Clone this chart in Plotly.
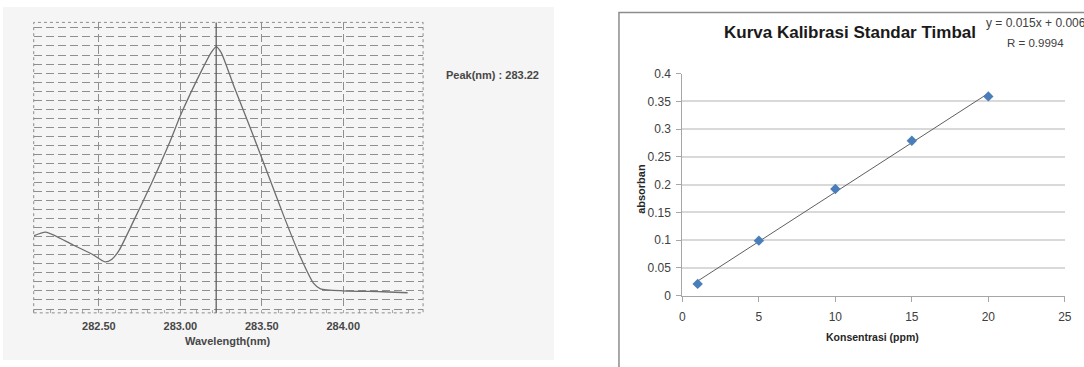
import numpy as np
import plotly.graph_objects as go

# ---------------- Data: spectrum (left panel) ----------------
wavelength_nm = [282.10, 282.174, 282.338, 282.459, 282.538, 282.58, 282.624, 282.72,
                 282.824, 282.928, 283.007, 283.128, 283.19, 283.22, 283.25, 283.33,
                 283.433, 283.536, 283.634, 283.737, 283.817, 283.86, 284.0, 284.243, 284.395]
signal = [9.06, 9.48, 8.1, 7.04, 6.2, 6.5, 7.47, 10.97,
          14.9, 19.1, 22.6, 27.2, 29.3, 29.9, 29.3, 25.5,
          20.8, 15.95, 11.3, 6.73, 3.86, 3.23, 3.01, 2.91, 2.8]
peak_nm = 283.22
wl_ticks = [282.5, 283.0, 283.5, 284.0]
wl_ticktext = ["282.50", "283.00", "283.50", "284.00"]

# ---------------- Data: calibration (right panel) ----------------
konsentrasi = [1, 5, 10, 15, 20]
absorban = [0.021, 0.099, 0.192, 0.279, 0.359]
equation_text = "y = 0.015x + 0.006"
r_text = "R = 0.9994"

W, H = 1084, 367
def px(x):
    return x / W
def py(y):
    return 1 - y / H

fig = go.Figure()

# spectrum curve
fig.add_trace(go.Scatter(x=wavelength_nm, y=signal, mode="lines",
                         line=dict(color="#6e6e6e", width=1.3, shape="spline", smoothing=0.6),
                         xaxis="x", yaxis="y", showlegend=False, hoverinfo="skip"))

# calibration trendline (least squares on the data)
slope, intercept = np.polyfit(konsentrasi, absorban, 1)
xfit = [min(konsentrasi), max(konsentrasi)]
yfit = [slope * v + intercept for v in xfit]
fig.add_trace(go.Scatter(x=xfit, y=yfit, mode="lines",
                         line=dict(color="#5f5f5f", width=1),
                         xaxis="x2", yaxis="y2", showlegend=False, hoverinfo="skip"))
fig.add_trace(go.Scatter(x=konsentrasi, y=absorban, mode="markers",
                         marker=dict(symbol="diamond", size=8, color="#4a7ebb"),
                         xaxis="x2", yaxis="y2", showlegend=False))

sans = "Liberation Sans, Arial, sans-serif"

fig.update_layout(
    width=W, height=H,
    margin=dict(l=0, r=0, t=0, b=0),
    paper_bgcolor="white", plot_bgcolor="rgba(0,0,0,0)",
    font=dict(family=sans, color="#444"),
    xaxis=dict(domain=[px(31), px(424)], range=[282.10, 284.49],
               tickvals=wl_ticks, ticktext=wl_ticktext,
               showgrid=True, gridcolor="#8f8f8f", griddash="8px,4px", gridwidth=1,
               zeroline=False, showline=False,
               ticks="", ticklabelstandoff=5,
               tickfont=dict(size=11, color="#474747", family=sans, weight="bold"),
               minor=dict(dtick=0.1, tick0=282.0, ticks="inside", ticklen=3, tickcolor="#aaaaaa", showgrid=False),
               anchor="y"),
    yaxis=dict(domain=[py(318), py(16)], range=[0.58, 32.6],
               dtick=1, tick0=0, showgrid=True, gridcolor="#8f8f8f", griddash="8px,4px", gridwidth=1,
               showticklabels=False, zeroline=False, showline=False, ticks="", anchor="x"),
    xaxis2=dict(domain=[px(685.7), px(1071.7)], range=[0, 25], dtick=5,
                showgrid=False, zeroline=False, showline=True, linecolor="#a6a6a6", linewidth=1,
                ticks="outside", ticklen=5, tickcolor="#a6a6a6", ticklabelstandoff=5,
                tickfont=dict(size=12, color="#404040", family=sans), anchor="y2"),
    yaxis2=dict(domain=[py(300), py(69.3)], range=[0, 0.4], dtick=0.05,
                showgrid=True, gridcolor="#d9d9d9", gridwidth=1.5, zeroline=False,
                showline=True, linecolor="#a6a6a6", linewidth=1,
                ticks="outside", ticklen=5, tickcolor="#a6a6a6", ticklabelstandoff=3,
                tickfont=dict(size=12, color="#404040", family=sans), anchor="x2"),
)

shapes = [
    # scanned paper background of the left panel
    dict(type="rect", xref="paper", yref="paper", x0=0, x1=px(556), y0=0, y1=1,
         fillcolor="#f5f5f5", line=dict(width=0), layer="below"),
    # left plot frame
    dict(type="rect", xref="paper", yref="paper", x0=px(31), x1=px(424), y0=py(318), y1=py(16),
         line=dict(color="#8c8c8c", width=1, dash="dot"), layer="above"),
    # peak marker line
    dict(type="line", xref="x", yref="paper", x0=peak_nm, x1=peak_nm, y0=py(318), y1=py(16),
         line=dict(color="#555555", width=1.2), layer="above"),
    # right chart frame
    dict(type="rect", xref="paper", yref="paper", x0=px(621.7), x1=1.02, y0=-0.05, y1=py(5.7),
         line=dict(color="#8c8c8c", width=1.5), layer="above"),
]
fig.update_layout(shapes=shapes)

annotations = [
    dict(text="<b>Wavelength(nm)</b>", x=px(227), y=py(347), xref="paper", yref="paper",
         showarrow=False, font=dict(size=11, color="#474747", family=sans),
         xanchor="center", yanchor="middle"),
    dict(text=f"<b>Peak(nm) : {peak_nm:.2f}</b>", x=px(445), y=py(71), xref="paper", yref="paper",
         showarrow=False, font=dict(size=11, color="#474747", family=sans),
         xanchor="left", yanchor="middle"),
    dict(text="<b>Kurva Kalibrasi Standar Timbal</b>", x=px(855), y=py(27), xref="paper", yref="paper",
         showarrow=False, font=dict(size=17, color="#1a1a1a", family=sans),
         xanchor="center", yanchor="middle"),
    dict(text=equation_text, x=px(990), y=py(17), xref="paper", yref="paper",
         showarrow=False, font=dict(size=12, color="#404040", family=sans),
         xanchor="left", yanchor="middle"),
    dict(text=r_text, x=px(1042), y=py(37), xref="paper", yref="paper",
         showarrow=False, font=dict(size=11.5, color="#404040", family=sans),
         xanchor="center", yanchor="middle"),
    dict(text="<b>Konsentrasi (ppm)</b>", x=px(878), y=py(343), xref="paper", yref="paper",
         showarrow=False, font=dict(size=10.5, color="#262626", family=sans),
         xanchor="center", yanchor="middle"),
    dict(text="<b>absorban</b>", x=px(644), y=py(189), xref="paper", yref="paper",
         showarrow=False, textangle=-90, font=dict(size=11, color="#262626", family=sans),
         xanchor="center", yanchor="middle"),
]
fig.update_layout(annotations=annotations)

fig.write_html("out.html", config={"displayModeBar": False},
               post_script="document.body.style.margin='0px';document.body.style.overflow='hidden';")
